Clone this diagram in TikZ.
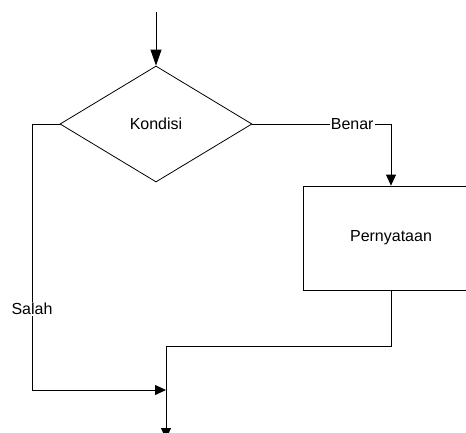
\documentclass[tikz,border=0pt]{standalone}
\usepackage{fontspec}
\setmainfont{Liberation Sans}
\usetikzlibrary{shapes.geometric,arrows.meta}

\begin{document}
\begin{tikzpicture}[x=1pt, y=-1pt, line width=0.8pt,
    font=\fontsize{16}{19}\selectfont,
    >={Triangle[length=11pt,width=10pt]},
    label/.style={fill=white, inner sep=1pt}]
    \useasboundingbox (0,0) rectangle (466,432);
    \clip (0,0) rectangle (466,432);

    \node[draw, diamond, minimum width=192pt, minimum height=116pt, inner sep=0pt] (kondisi) at (156,124) {Kondisi};
    \node[draw, rectangle, minimum width=176pt, minimum height=104pt] (pernyataan) at (391,238) {Pernyataan};

    \coordinate (mulai) at (156,12);
    \coordinate (sudut) at (32,390);
    \coordinate (gabung) at (166,346);
    \coordinate (masuk) at (166,390);
    \coordinate (akhir) at (166,439);

    \draw[-{Triangle[length=16pt,width=11pt]}] (mulai) -- (kondisi.north);
    \draw[->] (kondisi.east) -| node[pos=0.36, label] {Benar} (pernyataan.north);
    \draw[->] (kondisi.west) -| (sudut) node[pos=0.848, label] {Salah} -- (masuk);
    \draw (pernyataan.south) |- (gabung);
    \draw[->] (gabung) -- (akhir);
\end{tikzpicture}
\end{document}
